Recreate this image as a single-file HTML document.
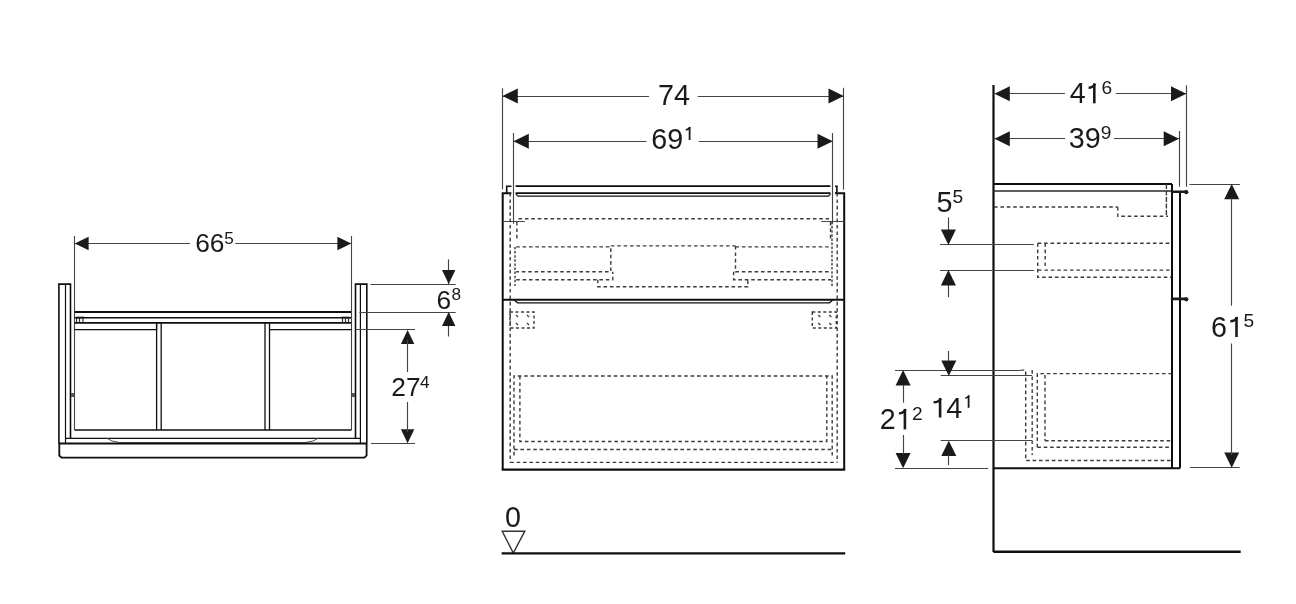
<!DOCTYPE html>
<html><head><meta charset="utf-8"><style>
html,body{margin:0;padding:0;background:#fff;}
svg{display:block;font-family:"Liberation Sans",sans-serif;will-change:transform;}
</style></head><body>
<svg width="1296" height="604" viewBox="0 0 1296 604">
<rect width="1296" height="604" fill="#fff"/>
<line x1="74.5" y1="236" x2="74.5" y2="430" stroke="#454545" stroke-width="1.1"/>
<line x1="351.5" y1="236" x2="351.5" y2="430" stroke="#454545" stroke-width="1.1"/>
<line x1="74.6" y1="243.5" x2="190" y2="243.5" stroke="#454545" stroke-width="1.15"/>
<line x1="235.3" y1="243.5" x2="351.4" y2="243.5" stroke="#454545" stroke-width="1.15"/>
<polygon points="74.8,243.5 88.6,236.8 88.6,250.2" fill="#1a1a1a"/>
<polygon points="351.2,243.5 337.4,236.8 337.4,250.2" fill="#1a1a1a"/>
<polyline points="58.9,443.7 58.9,284.1 70.5,284.1 70.5,438.4" fill="none" stroke="#0e0e0e" stroke-width="1.6"/>
<line x1="65.5" y1="284.1" x2="65.5" y2="443.7" stroke="#0e0e0e" stroke-width="1.2"/>
<polyline points="366.8,443.7 366.8,284.1 355.5,284.1 355.5,438.4" fill="none" stroke="#0e0e0e" stroke-width="1.6"/>
<line x1="360.4" y1="284.1" x2="360.4" y2="443.7" stroke="#0e0e0e" stroke-width="1.2"/>
<line x1="74.8" y1="312" x2="351" y2="312" stroke="#0e0e0e" stroke-width="2.0"/>
<line x1="74.6" y1="317.7" x2="351" y2="317.7" stroke="#0e0e0e" stroke-width="1.5"/>
<line x1="74.6" y1="322.8" x2="351" y2="322.8" stroke="#0e0e0e" stroke-width="1.8"/>
<line x1="76.5" y1="317.5" x2="76.5" y2="322.5" stroke="#333" stroke-width="1.2"/>
<line x1="79.5" y1="317.5" x2="79.5" y2="322.5" stroke="#333" stroke-width="1.2"/>
<line x1="83.0" y1="317.5" x2="83.0" y2="322.5" stroke="#333" stroke-width="1.2"/>
<line x1="342.5" y1="317.5" x2="342.5" y2="322.5" stroke="#333" stroke-width="1.2"/>
<line x1="345.5" y1="317.5" x2="345.5" y2="322.5" stroke="#333" stroke-width="1.2"/>
<line x1="348.5" y1="317.5" x2="348.5" y2="322.5" stroke="#333" stroke-width="1.2"/>
<line x1="76" y1="317.5" x2="84" y2="317.5" stroke="#111" stroke-width="1.6"/>
<line x1="341.5" y1="317.5" x2="349.5" y2="317.5" stroke="#111" stroke-width="1.6"/>
<polyline points="74.6,329.7 156.6,329.7 156.6,322.8" fill="none" stroke="#0e0e0e" stroke-width="1.3"/>
<line x1="74.6" y1="430" x2="351.4" y2="430" stroke="#0e0e0e" stroke-width="1.5"/>
<line x1="156.6" y1="322.8" x2="156.6" y2="430" stroke="#0e0e0e" stroke-width="1.3"/>
<line x1="161.2" y1="322.8" x2="161.2" y2="430" stroke="#0e0e0e" stroke-width="1.3"/>
<line x1="265" y1="322.8" x2="265" y2="430" stroke="#0e0e0e" stroke-width="1.3"/>
<line x1="269.5" y1="322.8" x2="269.5" y2="430" stroke="#0e0e0e" stroke-width="1.3"/>
<polyline points="269.5,329.7 351.4,329.7" fill="none" stroke="#0e0e0e" stroke-width="1.3"/>
<line x1="65.5" y1="438.4" x2="360.4" y2="438.4" stroke="#0e0e0e" stroke-width="1.2"/>
<polyline points="107,438.4 112,441 120,442.6 305,442.6 313,441 318,438.4" fill="none" stroke="#555" stroke-width="1.0"/>
<line x1="58.9" y1="443.4" x2="366.8" y2="443.4" stroke="#0e0e0e" stroke-width="2.0"/>
<polyline points="59.3,443.4 59.3,455.5 61.5,457.6 364.5,457.6 366.6,455.5 366.6,443.4" fill="none" stroke="#0e0e0e" stroke-width="1.8"/>
<rect x="71" y="393" width="3" height="4" fill="#555"/>
<rect x="352" y="393" width="3" height="4" fill="#555"/>
<line x1="370.5" y1="284.5" x2="455.7" y2="284.5" stroke="#454545" stroke-width="1.15"/>
<line x1="359.5" y1="312.5" x2="455.7" y2="312.5" stroke="#454545" stroke-width="1.15"/>
<line x1="448.5" y1="259.4" x2="448.5" y2="284" stroke="#454545" stroke-width="1.15"/>
<polygon points="448.7,284.1 442.0,270.1 455.4,270.1" fill="#1a1a1a"/>
<line x1="448.5" y1="312" x2="448.5" y2="336.5" stroke="#454545" stroke-width="1.15"/>
<polygon points="448.7,312.1 442.0,326.1 455.4,326.1" fill="#1a1a1a"/>
<line x1="355" y1="329.5" x2="415" y2="329.5" stroke="#454545" stroke-width="1.15"/>
<line x1="371" y1="443.5" x2="415" y2="443.5" stroke="#454545" stroke-width="1.15"/>
<polygon points="407.6,329.9 400.90000000000003,343.9 414.3,343.9" fill="#1a1a1a"/>
<polygon points="407.6,443.2 400.90000000000003,429.2 414.3,429.2" fill="#1a1a1a"/>
<line x1="407.5" y1="340" x2="407.5" y2="372" stroke="#454545" stroke-width="1.15"/>
<line x1="407.5" y1="402" x2="407.5" y2="432" stroke="#454545" stroke-width="1.15"/>
<line x1="502.5" y1="88.2" x2="502.5" y2="189.4" stroke="#454545" stroke-width="1.15"/>
<line x1="843.5" y1="87.8" x2="843.5" y2="189.6" stroke="#454545" stroke-width="1.15"/>
<line x1="502.5" y1="96.5" x2="649" y2="96.5" stroke="#454545" stroke-width="1.15"/>
<line x1="697.7" y1="96.5" x2="843.8" y2="96.5" stroke="#454545" stroke-width="1.15"/>
<polygon points="502.5,96 517.8,88.5 517.8,103.5" fill="#1a1a1a"/>
<polygon points="843.8,96 828.5,88.5 828.5,103.5" fill="#1a1a1a"/>
<line x1="513.5" y1="133" x2="513.5" y2="223.7" stroke="#454545" stroke-width="1.15"/>
<line x1="832.5" y1="133" x2="832.5" y2="223.7" stroke="#454545" stroke-width="1.15"/>
<line x1="513.5" y1="141.5" x2="646.5" y2="141.5" stroke="#454545" stroke-width="1.15"/>
<line x1="698.6" y1="141.5" x2="832.8" y2="141.5" stroke="#454545" stroke-width="1.15"/>
<polygon points="513.5,141.2 528.8,133.7 528.8,148.7" fill="#1a1a1a"/>
<polygon points="832.8,141.2 817.5,133.7 817.5,148.7" fill="#1a1a1a"/>
<polyline points="502.7,469.6 502.7,193.3 511.4,193.3" fill="none" stroke="#0e0e0e" stroke-width="2.0"/>
<polyline points="506.7,193.3 506.7,186.2 511.4,186.2" fill="none" stroke="#0e0e0e" stroke-width="1.6"/>
<polyline points="844.2,469.6 844.2,193.3 835,193.3" fill="none" stroke="#0e0e0e" stroke-width="2.0"/>
<polyline points="835,186.2 836.9,186.2 836.9,193.3" fill="none" stroke="#0e0e0e" stroke-width="1.6"/>
<line x1="501.7" y1="469.6" x2="845.2" y2="469.6" stroke="#0e0e0e" stroke-width="2.1"/>
<line x1="515.6" y1="186.2" x2="830.4" y2="186.2" stroke="#0e0e0e" stroke-width="1.8"/>
<line x1="515.6" y1="193.2" x2="830.4" y2="193.2" stroke="#0e0e0e" stroke-width="1.7"/>
<polyline points="515.8,193.8 518,196.1 828.5,196.1 830.5,193.8" fill="none" stroke="#0e0e0e" stroke-width="1.1"/>
<line x1="502.7" y1="299.8" x2="844.2" y2="299.8" stroke="#0e0e0e" stroke-width="2.0"/>
<polyline points="514.5,300.2 517.5,302.8 829.5,302.8 832.5,300.2" fill="none" stroke="#0e0e0e" stroke-width="1.2"/>
<line x1="503" y1="221.5" x2="524.8" y2="221.5" stroke="#454545" stroke-width="1.0"/>
<line x1="821.2" y1="221.5" x2="844.3" y2="221.5" stroke="#454545" stroke-width="1.0"/>
<line x1="510.2" y1="193" x2="510.2" y2="462.4" stroke="#3c3c3c" stroke-width="1.4" stroke-dasharray="3.6 2.8"/>
<line x1="837.2" y1="193" x2="837.2" y2="462.4" stroke="#3c3c3c" stroke-width="1.4" stroke-dasharray="3.6 2.8"/>
<line x1="510.2" y1="462.4" x2="837.2" y2="462.4" stroke="#3c3c3c" stroke-width="1.4" stroke-dasharray="3.6 2.8"/>
<line x1="518.5" y1="218.7" x2="829" y2="218.7" stroke="#3c3c3c" stroke-width="1.5" stroke-dasharray="3.6 2.8"/>
<line x1="516.9" y1="222" x2="516.9" y2="240" stroke="#3c3c3c" stroke-width="1.4" stroke-dasharray="3.6 2.8"/>
<line x1="830.5" y1="222" x2="830.5" y2="240" stroke="#3c3c3c" stroke-width="1.4" stroke-dasharray="3.6 2.8"/>
<polyline points="516.2,246.9 610.8,246.9 610.8,271.7 516.2,271.7" fill="none" stroke="#3c3c3c" stroke-width="1.4" stroke-dasharray="3.6 2.8"/>
<polyline points="735.5,246.9 829.7,246.9" fill="none" stroke="#3c3c3c" stroke-width="1.4" stroke-dasharray="3.6 2.8"/>
<line x1="610.8" y1="245.9" x2="735.5" y2="245.9" stroke="#3c3c3c" stroke-width="1.4" stroke-dasharray="3.6 2.8"/>
<polyline points="735.5,246 735.5,271.7 831,271.7" fill="none" stroke="#3c3c3c" stroke-width="1.4" stroke-dasharray="3.6 2.8"/>
<polyline points="516.2,279.7 612.8,279.7 612.8,271.7" fill="none" stroke="#3c3c3c" stroke-width="1.4" stroke-dasharray="3.6 2.8"/>
<polyline points="733.6,271.7 733.6,279.7 831,279.7" fill="none" stroke="#3c3c3c" stroke-width="1.4" stroke-dasharray="3.6 2.8"/>
<polyline points="597.8,279.7 597.8,286.8 747.8,286.8 747.8,279.7" fill="none" stroke="#3c3c3c" stroke-width="1.4" stroke-dasharray="3.6 2.8"/>
<line x1="515" y1="247" x2="515" y2="286" stroke="#3c3c3c" stroke-width="1.4" stroke-dasharray="2.5 1.6"/>
<line x1="832" y1="222" x2="832" y2="286" stroke="#3c3c3c" stroke-width="1.4" stroke-dasharray="2.5 1.6"/>
<rect x="510" y="312" width="24" height="16" fill="none" stroke="#3c3c3c" stroke-width="1.4" stroke-dasharray="3 2.5"/>
<rect x="812.3" y="312" width="24" height="16" fill="none" stroke="#3c3c3c" stroke-width="1.4" stroke-dasharray="3 2.5"/>
<path d="M516,315 l2,2" stroke="#444" stroke-width="1.5" fill="none"/>
<path d="M527,315 l2,2" stroke="#444" stroke-width="1.5" fill="none"/>
<path d="M516,323 l2,2" stroke="#444" stroke-width="1.5" fill="none"/>
<path d="M527,323 l2,2" stroke="#444" stroke-width="1.5" fill="none"/>
<path d="M818.3,315 l2,2" stroke="#444" stroke-width="1.5" fill="none"/>
<path d="M829.3,315 l2,2" stroke="#444" stroke-width="1.5" fill="none"/>
<path d="M818.3,323 l2,2" stroke="#444" stroke-width="1.5" fill="none"/>
<path d="M829.3,323 l2,2" stroke="#444" stroke-width="1.5" fill="none"/>
<polyline points="514,455.4 514,376 832.2,376 832.2,455.4" fill="none" stroke="#3c3c3c" stroke-width="1.4" stroke-dasharray="3.6 2.8"/>
<polyline points="519.9,376 519.9,441.5 826.8,441.5 826.8,376" fill="none" stroke="#3c3c3c" stroke-width="1.4" stroke-dasharray="3.6 2.8"/>
<line x1="514" y1="449.5" x2="832.2" y2="449.5" stroke="#3c3c3c" stroke-width="1.4" stroke-dasharray="3.6 2.8"/>
<polygon points="502.2,531.2 524.8,531.2 513.3,553" fill="none" stroke="#333" stroke-width="1.4"/>
<line x1="501.6" y1="553.4" x2="845.2" y2="553.4" stroke="#0e0e0e" stroke-width="2.4"/>
<line x1="993.5" y1="85" x2="993.5" y2="552" stroke="#0e0e0e" stroke-width="2.2"/>
<line x1="993.5" y1="551.8" x2="1240.7" y2="551.8" stroke="#0e0e0e" stroke-width="2.4"/>
<line x1="1186.5" y1="85.3" x2="1186.5" y2="186.7" stroke="#454545" stroke-width="1.15"/>
<line x1="1179.5" y1="131" x2="1179.5" y2="186.7" stroke="#454545" stroke-width="1.15"/>
<line x1="993.5" y1="93.5" x2="1064.9" y2="93.5" stroke="#454545" stroke-width="1.15"/>
<line x1="1115.8" y1="93.5" x2="1186.3" y2="93.5" stroke="#454545" stroke-width="1.15"/>
<polygon points="994.5,93.8 1009.8,86.3 1009.8,101.3" fill="#1a1a1a"/>
<polygon points="1186.3,93.8 1171.0,86.3 1171.0,101.3" fill="#1a1a1a"/>
<line x1="993.5" y1="138.5" x2="1065" y2="138.5" stroke="#454545" stroke-width="1.15"/>
<line x1="1114" y1="138.5" x2="1179" y2="138.5" stroke="#454545" stroke-width="1.15"/>
<polygon points="994.5,138.8 1009.8,131.3 1009.8,146.3" fill="#1a1a1a"/>
<polygon points="1179,138.8 1163.7,131.3 1163.7,146.3" fill="#1a1a1a"/>
<line x1="993.5" y1="184" x2="1172" y2="184" stroke="#0e0e0e" stroke-width="2.0"/>
<line x1="993.5" y1="191.0" x2="1172" y2="191.0" stroke="#2a2a2a" stroke-width="1.5"/>
<line x1="1172" y1="184" x2="1172" y2="468.2" stroke="#0e0e0e" stroke-width="2.0"/>
<line x1="993.5" y1="468.2" x2="1180" y2="468.2" stroke="#0e0e0e" stroke-width="2.0"/>
<line x1="1180" y1="192" x2="1180" y2="468.2" stroke="#0e0e0e" stroke-width="2.0"/>
<line x1="1166.4" y1="184" x2="1166.4" y2="216.3" stroke="#3c3c3c" stroke-width="1.4" stroke-dasharray="5 1.5"/>
<path d="M1172,191.8 L1186,191.8" stroke="#1a1a1a" stroke-width="2.6" stroke-linecap="round"/>
<circle cx="1186.3" cy="192.20000000000002" r="2.1" fill="#1a1a1a"/>
<path d="M1172,298.9 L1186,298.9" stroke="#1a1a1a" stroke-width="2.6" stroke-linecap="round"/>
<circle cx="1186.3" cy="299.29999999999995" r="2.1" fill="#1a1a1a"/>
<line x1="994" y1="207" x2="1117.8" y2="207" stroke="#3c3c3c" stroke-width="1.4" stroke-dasharray="3.6 2.8"/>
<polyline points="1117.8,207 1117.8,216.3 1168,216.3" fill="none" stroke="#3c3c3c" stroke-width="1.4" stroke-dasharray="3.6 2.8"/>
<line x1="1037.7" y1="243.2" x2="1171" y2="243.2" stroke="#3c3c3c" stroke-width="1.4" stroke-dasharray="3.6 2.8"/>
<polyline points="1037.7,243.2 1037.7,277.2 1171,277.2" fill="none" stroke="#3c3c3c" stroke-width="1.4" stroke-dasharray="3.6 2.8"/>
<line x1="1045.2" y1="243.2" x2="1045.2" y2="267" stroke="#3c3c3c" stroke-width="1.4" stroke-dasharray="3.6 2.8"/>
<line x1="1038" y1="270.1" x2="1171" y2="270.1" stroke="#3c3c3c" stroke-width="1.4" stroke-dasharray="3.6 2.8"/>
<polyline points="1020.6,370.1 1025.7,370.1 1025.7,460.5 1171,460.5" fill="none" stroke="#3c3c3c" stroke-width="1.4" stroke-dasharray="3.6 2.8"/>
<line x1="1032.2" y1="370.1" x2="1032.2" y2="455" stroke="#3c3c3c" stroke-width="1.4" stroke-dasharray="3.6 2.8"/>
<polyline points="1037.3,447.3 1037.3,373.6 1171,373.6" fill="none" stroke="#3c3c3c" stroke-width="1.4" stroke-dasharray="3.6 2.8"/>
<line x1="1037.3" y1="447.3" x2="1171" y2="447.3" stroke="#3c3c3c" stroke-width="1.4" stroke-dasharray="3.6 2.8"/>
<line x1="1045" y1="375" x2="1045" y2="440.8" stroke="#3c3c3c" stroke-width="1.4" stroke-dasharray="3.6 2.8"/>
<line x1="1045" y1="440.8" x2="1171" y2="440.8" stroke="#3c3c3c" stroke-width="1.4" stroke-dasharray="3.6 2.8"/>
<line x1="940" y1="244.5" x2="1033.9" y2="244.5" stroke="#454545" stroke-width="1.15"/>
<line x1="940" y1="270.5" x2="1033.9" y2="270.5" stroke="#454545" stroke-width="1.15"/>
<line x1="948.5" y1="217.4" x2="948.5" y2="232" stroke="#454545" stroke-width="1.15"/>
<polygon points="948.4,244.9 940.9,229.6 955.9,229.6" fill="#1a1a1a"/>
<line x1="948.5" y1="283" x2="948.5" y2="297.3" stroke="#454545" stroke-width="1.15"/>
<polygon points="948.4,270.1 940.9,285.40000000000003 955.9,285.40000000000003" fill="#1a1a1a"/>
<line x1="1189.4" y1="184.5" x2="1240.1" y2="184.5" stroke="#454545" stroke-width="1.15"/>
<line x1="1190" y1="467.5" x2="1239.6" y2="467.5" stroke="#454545" stroke-width="1.15"/>
<polygon points="1231.7,184 1224.2,199.3 1239.2,199.3" fill="#1a1a1a"/>
<polygon points="1231.7,467.7 1224.2,452.4 1239.2,452.4" fill="#1a1a1a"/>
<line x1="1231.5" y1="198" x2="1231.5" y2="305.7" stroke="#454545" stroke-width="1.15"/>
<line x1="1231.5" y1="343.5" x2="1231.5" y2="455" stroke="#454545" stroke-width="1.15"/>
<line x1="895" y1="370.5" x2="1020.6" y2="370.5" stroke="#454545" stroke-width="1.15"/>
<line x1="895" y1="468.5" x2="988.2" y2="468.5" stroke="#454545" stroke-width="1.15"/>
<line x1="940.7" y1="375.5" x2="1032.2" y2="375.5" stroke="#454545" stroke-width="1.15"/>
<line x1="940.7" y1="440.5" x2="1032.2" y2="440.5" stroke="#454545" stroke-width="1.15"/>
<polygon points="903.1,370.1 895.6,385.40000000000003 910.6,385.40000000000003" fill="#1a1a1a"/>
<polygon points="903.1,468.2 895.6,452.9 910.6,452.9" fill="#1a1a1a"/>
<line x1="903.5" y1="385" x2="903.5" y2="402.6" stroke="#454545" stroke-width="1.15"/>
<line x1="903.5" y1="435" x2="903.5" y2="454" stroke="#454545" stroke-width="1.15"/>
<polygon points="948.8,375.9 941.3,360.59999999999997 956.3,360.59999999999997" fill="#1a1a1a"/>
<line x1="948.5" y1="351" x2="948.5" y2="361" stroke="#454545" stroke-width="1.15"/>
<polygon points="948.8,440.8 941.3,456.1 956.3,456.1" fill="#1a1a1a"/>
<line x1="948.5" y1="455" x2="948.5" y2="465.1" stroke="#454545" stroke-width="1.15"/>
<text x="195.17" y="252.33" font-size="26.3" letter-spacing="0" fill="#1a1a1a">66</text>
<text x="436.52" y="308.58" font-size="26.3" letter-spacing="0" fill="#1a1a1a">6</text>
<text x="391.26" y="396.46" font-size="26.3" letter-spacing="0" fill="#1a1a1a">27</text>
<text x="658.04" y="104.8" font-size="28.7" letter-spacing="0" fill="#1a1a1a">74</text>
<text x="651.27" y="149.3" font-size="28.7" letter-spacing="0" fill="#1a1a1a">69</text>
<text x="1069.73" y="103.05" font-size="28.7" letter-spacing="0" fill="#1a1a1a">4</text>
<text x="1068.82" y="148.15" font-size="28.7" letter-spacing="0" fill="#1a1a1a">39</text>
<text x="936.56" y="211.81" font-size="28.7" letter-spacing="0" fill="#1a1a1a">5</text>
<text x="1211.12" y="336.65" font-size="28.7" letter-spacing="0" fill="#1a1a1a">6</text>
<text x="879.66" y="429.0" font-size="28.7" letter-spacing="0" fill="#1a1a1a">2</text>
<text x="946.28" y="417.55" font-size="28.7" letter-spacing="0" fill="#1a1a1a">4</text>
<text x="504.91" y="526.8" font-size="28.7" letter-spacing="0" fill="#1a1a1a">0</text>
<text x="224.24" y="243.95" font-size="17.2" letter-spacing="0" fill="#1a1a1a">5</text>
<text x="451.46" y="300.21" font-size="17.2" letter-spacing="0" fill="#1a1a1a">8</text>
<text x="420.02" y="387.88" font-size="17.2" letter-spacing="0" fill="#1a1a1a">4</text>
<text x="1101.44" y="93.69" font-size="19.2" letter-spacing="0" fill="#1a1a1a">6</text>
<text x="1100.86" y="138.54" font-size="19.2" letter-spacing="0" fill="#1a1a1a">9</text>
<text x="952.54" y="202.58" font-size="19.2" letter-spacing="0" fill="#1a1a1a">5</text>
<text x="1243.44" y="327.33" font-size="19.2" letter-spacing="0" fill="#1a1a1a">5</text>
<text x="911.91" y="419.94" font-size="19.2" letter-spacing="0" fill="#1a1a1a">2</text>
<path d="M1094.3,83.39999999999999 L1094.3,103.3" stroke="#1a1a1a" stroke-width="2.6" fill="none"/>
<path d="M1095.08,83.88 Q1092.74,87.746 1088.6,87.746" stroke="#1a1a1a" stroke-width="2.4699999999999998" fill="none"/>
<path d="M1236.5,316.90000000000003 L1236.5,337.0" stroke="#1a1a1a" stroke-width="2.6" fill="none"/>
<path d="M1237.28,317.38 Q1234.94,321.29200000000003 1230.3,321.29200000000003" stroke="#1a1a1a" stroke-width="2.4699999999999998" fill="none"/>
<path d="M904.9000000000001,408.90000000000003 L904.9000000000001,429.4" stroke="#1a1a1a" stroke-width="2.6" fill="none"/>
<path d="M905.6800000000001,409.38 Q903.3400000000001,413.384 898.9,413.384" stroke="#1a1a1a" stroke-width="2.4699999999999998" fill="none"/>
<path d="M940.1,398.1 L940.1,417.5" stroke="#1a1a1a" stroke-width="2.6" fill="none"/>
<path d="M940.88,398.58 Q938.5400000000001,402.331 933.6,402.331" stroke="#1a1a1a" stroke-width="2.4699999999999998" fill="none"/>
<path d="M689.6,127.1 L689.6,140.0" stroke="#1a1a1a" stroke-width="1.8" fill="none"/>
<path d="M690.14,127.34 Q688.52,129.83599999999998 685.8,129.83599999999998" stroke="#1a1a1a" stroke-width="1.71" fill="none"/>
<path d="M968.6,395.40000000000003 L968.6,407.8" stroke="#1a1a1a" stroke-width="1.8" fill="none"/>
<path d="M969.14,395.64000000000004 Q967.52,398.021 965.3,398.021" stroke="#1a1a1a" stroke-width="1.71" fill="none"/>
</svg></body></html>
